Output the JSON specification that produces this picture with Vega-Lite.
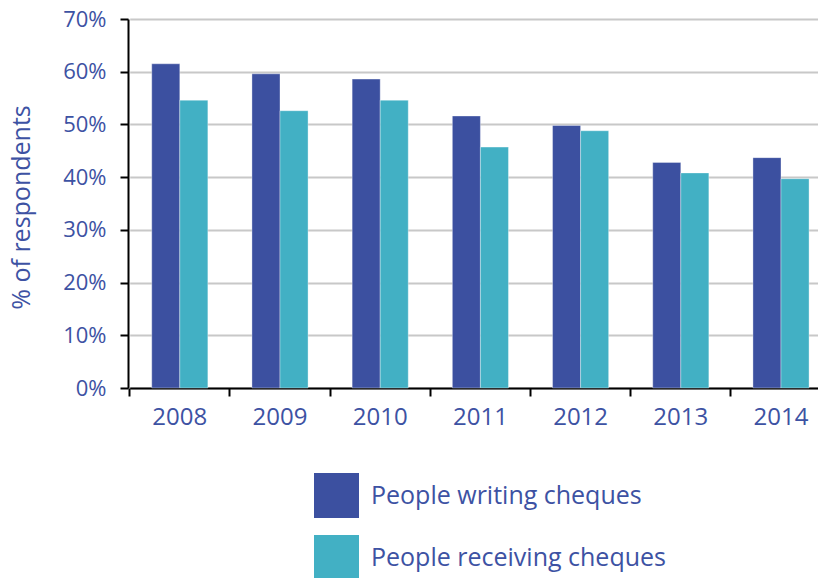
{
  "$schema": "https://vega.github.io/schema/vega-lite/v6.json",
  "autosize": {"type": "none"},
  "width": 690,
  "height": 369,
  "padding": {"left": 128, "top": 19, "right": 0, "bottom": 190},
  "background": "white",
  "config": {
    "view": {"stroke": null},
    "font": "Open Sans"
  },
  "data": {
    "values": [
      {"year": "2008", "series": "People writing cheques", "value": 61.5},
      {"year": "2008", "series": "People receiving cheques", "value": 54.6},
      {"year": "2009", "series": "People writing cheques", "value": 59.6},
      {"year": "2009", "series": "People receiving cheques", "value": 52.6},
      {"year": "2010", "series": "People writing cheques", "value": 58.6},
      {"year": "2010", "series": "People receiving cheques", "value": 54.6},
      {"year": "2011", "series": "People writing cheques", "value": 51.6},
      {"year": "2011", "series": "People receiving cheques", "value": 45.7},
      {"year": "2012", "series": "People writing cheques", "value": 49.8},
      {"year": "2012", "series": "People receiving cheques", "value": 48.8},
      {"year": "2013", "series": "People writing cheques", "value": 42.8},
      {"year": "2013", "series": "People receiving cheques", "value": 40.8},
      {"year": "2014", "series": "People writing cheques", "value": 43.7},
      {"year": "2014", "series": "People receiving cheques", "value": 39.7}
    ]
  },
  "mark": {"type": "bar", "stroke": "#ffffff", "strokeWidth": 1, "strokeOpacity": 0.35},
  "encoding": {
    "x": {
      "field": "year",
      "type": "nominal",
      "scale": {"range": [1.7, 703.1], "paddingInner": 0.44, "paddingOuter": 0.22},
      "axis": {
        "title": null,
        "labelAngle": 0,
        "labelFontSize": 24,
        "labelColor": "#3D52A3",
        "labelPadding": 9,
        "bandPosition": -0.393,
        "tickColor": "#000000",
        "tickWidth": 2,
        "tickSize": 8,
        "domainColor": "#000000",
        "domainWidth": 2,
        "grid": false
      }
    },
    "xOffset": {"field": "series", "type": "nominal", "sort": ["People writing cheques", "People receiving cheques"]},
    "y": {
      "field": "value",
      "type": "quantitative",
      "scale": {"domain": [0, 70], "nice": false},
      "axis": {
        "title": "% of respondents",
        "titleFontSize": 25,
        "titleFontWeight": "normal",
        "titleColor": "#3D52A3",
        "titleX": -107,
        "titleY": 188,
        "titleAngle": -90,
        "titleAlign": "center",
        "titleBaseline": "middle",
        "values": [0, 10, 20, 30, 40, 50, 60, 70],
        "labelExpr": "datum.value + '%'",
        "labelFontSize": 22,
        "labelColor": "#3D52A3",
        "labelPadding": 14,
        "tickColor": "#000000",
        "tickWidth": 2,
        "tickSize": 8,
        "domainColor": "#000000",
        "domainWidth": 2,
        "grid": true,
        "gridColor": "#c8c8c8",
        "gridWidth": 2
      }
    },
    "color": {
      "field": "series",
      "type": "nominal",
      "sort": ["People writing cheques", "People receiving cheques"],
      "scale": {"domain": ["People writing cheques", "People receiving cheques"], "range": ["#3C50A0", "#42B0C4"]},
      "legend": {
        "title": null,
        "orient": "none",
        "legendX": 186,
        "legendY": 454,
        "padding": 0,
        "symbolType": "square",
        "symbolSize": 2025,
        "symbolStrokeWidth": 0,
        "labelFontSize": 25,
        "labelColor": "#3D52A3",
        "labelOffset": 12,
        "rowPadding": 17,
        "labelLimit": 400
      }
    }
  }
}
